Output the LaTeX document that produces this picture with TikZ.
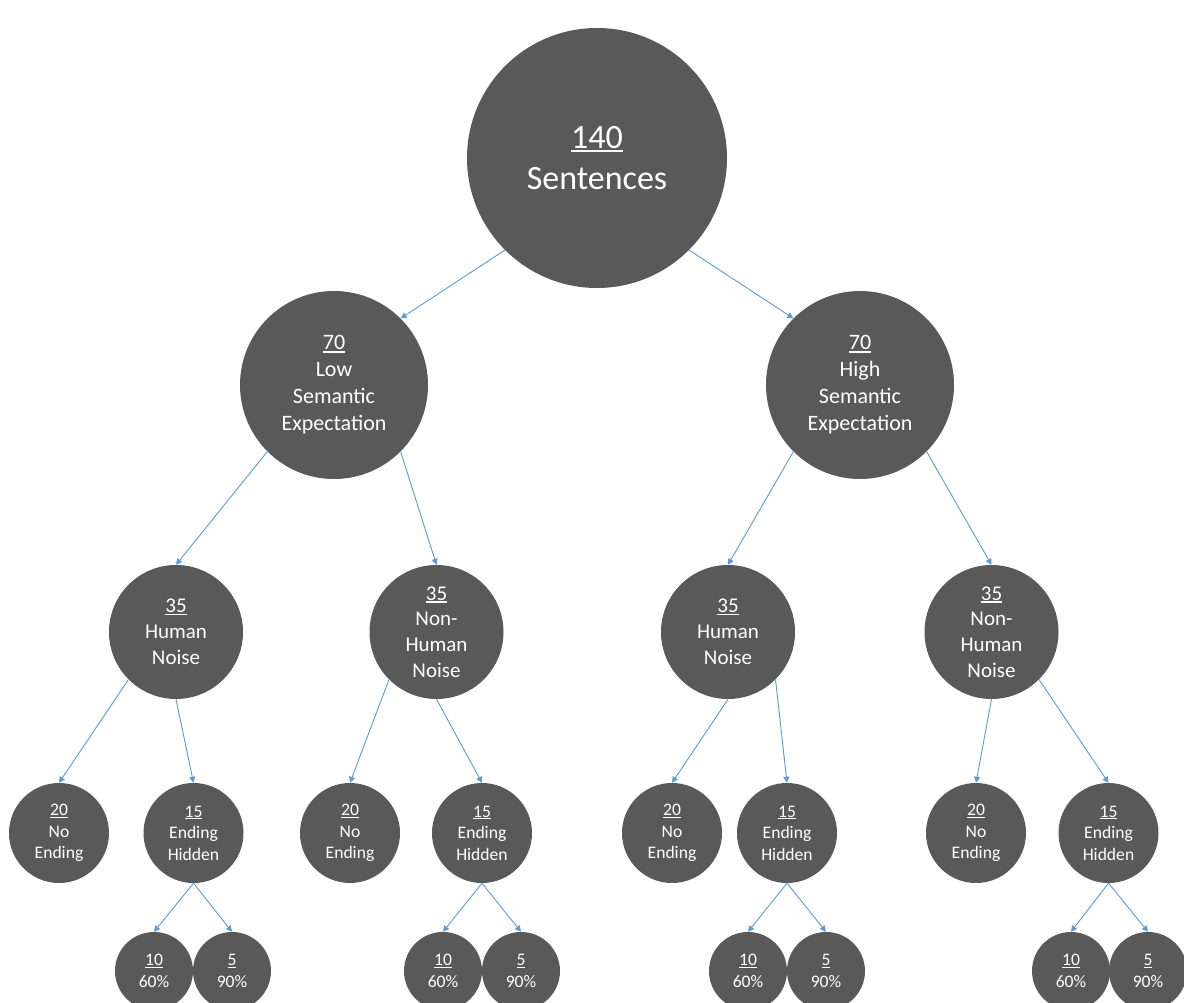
\documentclass[tikz,border=0pt]{standalone}
\usepackage{fontspec}
\setmainfont{Carlito}
\usetikzlibrary{arrows.meta}
\definecolor{nodegray}{HTML}{595959}
\definecolor{linkblue}{HTML}{5B9BD5}
\newcommand{\myul}[1]{\setbox0\hbox{#1}\rlap{\rule[-0.12em]{\wd0}{0.06em}}\box0}
\tikzset{
  bubble/.style={circle, fill=nodegray, text=white, inner sep=0pt, align=center},
  lvroot/.style={bubble, minimum size=260pt, font=\fontsize{34}{41}\selectfont},
  lvone/.style={bubble, minimum size=188pt, font=\fontsize{22}{27}\selectfont},
  lvtwo/.style={bubble, minimum size=134pt, font=\fontsize{21}{25.8}\selectfont},
  lvthree/.style={bubble, minimum size=100pt, font=\fontsize{17.6}{21.6}\selectfont},
  lvfour/.style={bubble, minimum size=78pt, font=\fontsize{17.6}{21.6}\selectfont},
  link/.style={draw=linkblue, line width=0.9pt, -{Triangle[length=6pt,width=6pt]}}
}
\begin{document}
\begin{tikzpicture}[x=1pt, y=-1pt]
\useasboundingbox[fill=white] (0,0) rectangle (1184,1003);
% root
\node[lvroot] (root) at (597,158) {\myul{140}\\Sentences};
% level 1
\node[lvone] (lo) at (334,385) {\myul{70}\\Low\\Semantic\\Expectation};
\node[lvone] (hi) at (860,385) {\myul{70}\\High\\Semantic\\Expectation};
% level 2
\node[lvtwo] (lh) at (176,632) {\myul{35}\\Human\\Noise};
\node[lvtwo] (ln) at (436.5,632) {\myul{35}\\Non-\\Human\\Noise};
\node[lvtwo] (hh) at (728,632) {\myul{35}\\Human\\Noise};
\node[lvtwo] (hn) at (991.5,632) {\myul{35}\\Non-\\Human\\Noise};
% level 3
\node[lvthree] (lhA) at (59,833) {\myul{20}\\No\\Ending};
\node[lvthree] (lhB) at (193.5,833) {\myul{15}\\Ending\\Hidden};
\node[lvthree] (lnA) at (350,833) {\myul{20}\\No\\Ending};
\node[lvthree] (lnB) at (482,833) {\myul{15}\\Ending\\Hidden};
\node[lvthree] (hhA) at (672,833) {\myul{20}\\No\\Ending};
\node[lvthree] (hhB) at (787,833) {\myul{15}\\Ending\\Hidden};
\node[lvthree] (hnA) at (976,833) {\myul{20}\\No\\Ending};
\node[lvthree] (hnB) at (1108.5,833) {\myul{15}\\Ending\\Hidden};
% level 4
\node[lvfour] (lhB1) at (154,971) {\myul{10}\\60\%};
\node[lvfour] (lhB2) at (232,971) {\myul{5}\\90\%};
\node[lvfour] (lnB1) at (443,971) {\myul{10}\\60\%};
\node[lvfour] (lnB2) at (521,971) {\myul{5}\\90\%};
\node[lvfour] (hhB1) at (748,971) {\myul{10}\\60\%};
\node[lvfour] (hhB2) at (826,971) {\myul{5}\\90\%};
\node[lvfour] (hnB1) at (1071,971) {\myul{10}\\60\%};
\node[lvfour] (hnB2) at (1148,971) {\myul{5}\\90\%};
% connectors
\draw[link] (root.south west) -- (lo.north east);
\draw[link] (root.south east) -- (hi.north west);
\draw[link] (lo.south west) -- (lh.north);
\draw[link] (lo.south east) -- (ln.north);
\draw[link] (hi.south west) -- (hh.north);
\draw[link] (hi.south east) -- (hn.north);
\draw[link] (lh.south west) -- (lhA.north);
\draw[link] (lh.south) -- (lhB.north);
\draw[link] (ln.south west) -- (lnA.north);
\draw[link] (ln.south) -- (lnB.north);
\draw[link] (hh.south) -- (hhA.north);
\draw[link] (hh.south east) -- (hhB.north);
\draw[link] (hn.south) -- (hnA.north);
\draw[link] (hn.south east) -- (hnB.north);
\draw[link] (lhB.south) -- (lhB1.north);
\draw[link] (lhB.south) -- (lhB2.north);
\draw[link] (lnB.south) -- (lnB1.north);
\draw[link] (lnB.south) -- (lnB2.north);
\draw[link] (hhB.south) -- (hhB1.north);
\draw[link] (hhB.south) -- (hhB2.north);
\draw[link] (hnB.south) -- (hnB1.north);
\draw[link] (hnB.south) -- (hnB2.north);
\end{tikzpicture}
\end{document}
